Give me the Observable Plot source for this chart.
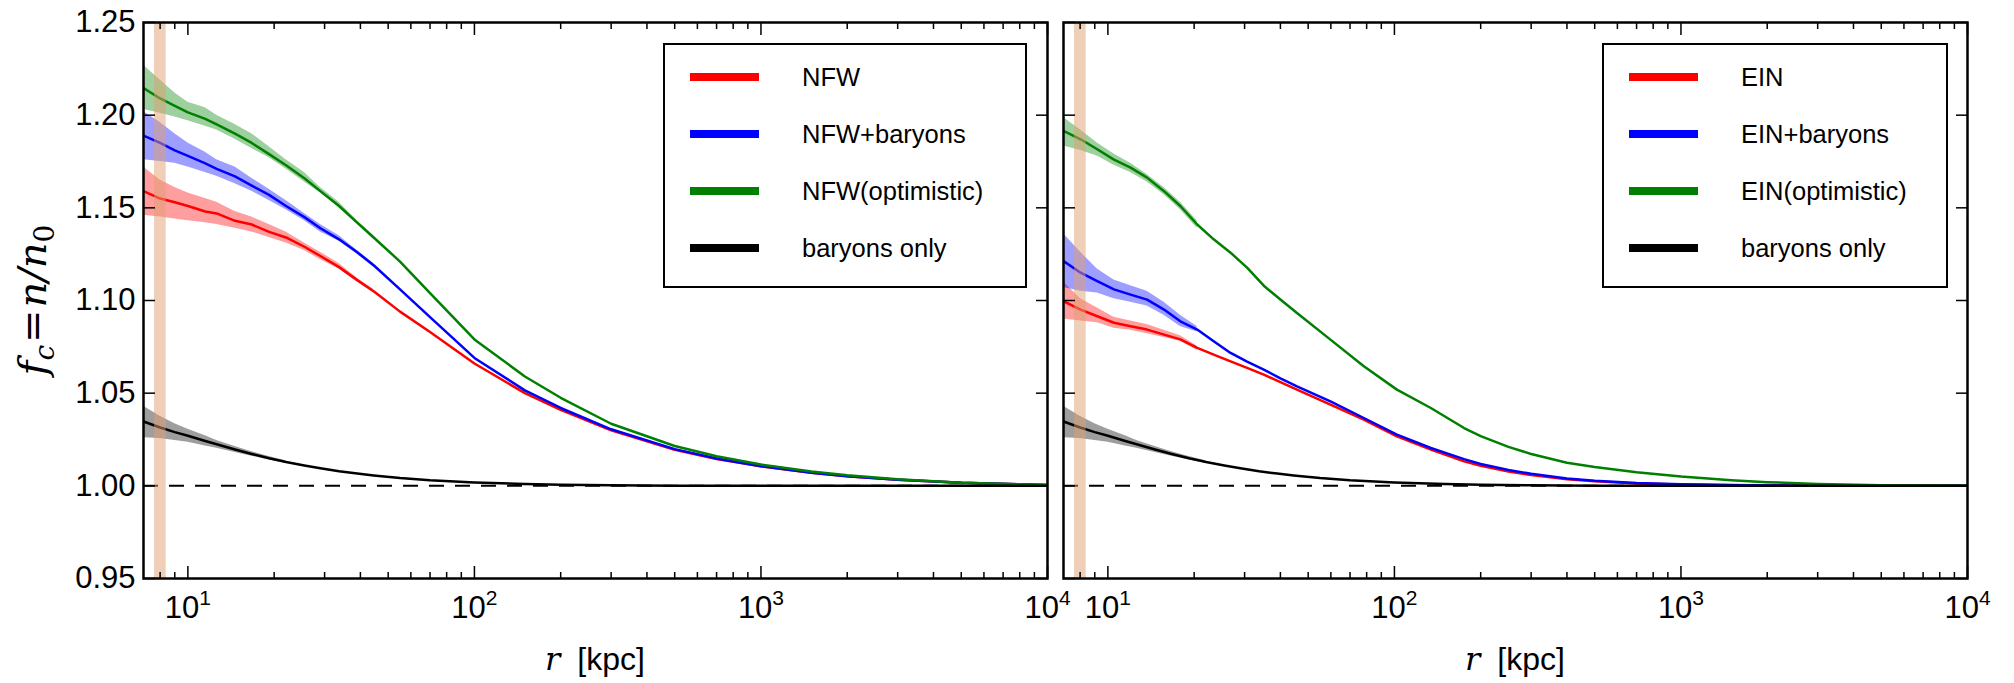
<!DOCTYPE html>
<html><head><meta charset="utf-8">
<script src="https://cdn.jsdelivr.net/npm/d3@7"></script>
<script src="https://cdn.jsdelivr.net/npm/@observablehq/plot@0.6"></script>
<style>
body{margin:0;background:#fff;}
#wrap{position:relative;width:2014px;height:683px;overflow:hidden;}
#wrap svg{position:absolute;top:0;}
</style>
</head><body><div id="wrap"></div>
<script>
// ---------- data ----------
const rL = [7, 8, 9, 10, 11.5, 12.6, 14.6, 16.7, 19.2, 22, 25.5, 29, 33.7, 39, 44.5, 55, 70, 100, 150, 200, 300, 500, 700, 1000, 1500, 2000, 3000, 5000, 10000];
const nfw    = [1.159, 1.155, 1.153, 1.151, 1.148, 1.147, 1.143, 1.141, 1.137, 1.134, 1.129, 1.124, 1.118, 1.111, 1.105, 1.094, 1.083, 1.066, 1.050, 1.041, 1.030, 1.0195, 1.0145, 1.0105, 1.007, 1.0052, 1.0033, 1.0016, 1.0004];
const nfwBar = [1.189, 1.185, 1.181, 1.178, 1.174, 1.171, 1.167, 1.162, 1.157, 1.151, 1.145, 1.139, 1.133, 1.126, 1.119, 1.106, 1.091, 1.069, 1.0515, 1.042, 1.0305, 1.0198, 1.0147, 1.0106, 1.007, 1.0052, 1.0033, 1.0016, 1.0004];
const nfwOpt = [1.2146, 1.209, 1.205, 1.2015, 1.198, 1.195, 1.190, 1.185, 1.179, 1.173, 1.166, 1.159, 1.151, 1.142, 1.134, 1.121, 1.104, 1.079, 1.059, 1.0475, 1.0335, 1.0215, 1.016, 1.0115, 1.0077, 1.0057, 1.0035, 1.0017, 1.0004];
// uncertainty bands, first 15 radii of rL
const nfwLo    = [1.146, 1.145, 1.144, 1.143, 1.142, 1.141, 1.139, 1.137, 1.134, 1.131, 1.127, 1.122, 1.117, 1.110, 1.104];
const nfwHi    = [1.172, 1.165, 1.161, 1.158, 1.155, 1.153, 1.148, 1.145, 1.141, 1.137, 1.131, 1.126, 1.120, 1.112, 1.106];
const nfwBarLo = [1.176, 1.175, 1.174, 1.172, 1.169, 1.167, 1.163, 1.159, 1.154, 1.149, 1.143, 1.137, 1.132, 1.125, 1.118];
const nfwBarHi = [1.202, 1.196, 1.190, 1.185, 1.180, 1.176, 1.172, 1.166, 1.160, 1.154, 1.147, 1.141, 1.135, 1.127, 1.120];
const nfwOptLo = [1.203, 1.201, 1.199, 1.197, 1.194, 1.192, 1.187, 1.182, 1.177, 1.171, 1.164, 1.158, 1.150, 1.141, 1.133];
const nfwOptHi = [1.227, 1.219, 1.212, 1.207, 1.204, 1.200, 1.195, 1.190, 1.183, 1.176, 1.169, 1.161, 1.153, 1.143, 1.135];

const rB = [7, 8, 9, 10, 11.5, 12.6, 14.6, 16.7, 19.2, 22, 25.5, 29, 33.7, 39, 44.5, 55, 70, 100, 150, 200, 300, 500, 700, 1000, 10000];
const baryons   = [1.0347, 1.0315, 1.029, 1.027, 1.0242, 1.0224, 1.0196, 1.0172, 1.0149, 1.0129, 1.011, 1.0095, 1.0079, 1.0066, 1.0056, 1.0042, 1.003, 1.0018, 1.001, 1.0006, 1.0003, 1.0001, 1.0, 1.0, 1.0];
const baryonsLo = [1.026, 1.0255, 1.0245, 1.0235, 1.0215, 1.0203, 1.018, 1.016, 1.0139, 1.0122];
const baryonsHi = [1.043, 1.0375, 1.0335, 1.0305, 1.027, 1.0245, 1.0212, 1.0184, 1.0158, 1.0136];

const rR = [7, 8.03, 9.18, 10.5, 12.0, 13.7, 15.7, 17.9, 20.5, 23.4, 26.8, 30.6, 35.0, 40.0, 45.7, 59.8, 78.2, 102, 134, 175, 200, 250, 300, 400, 500, 700, 1000, 1500, 2000, 3000, 5000, 10000];
const ein    = [1.0996, 1.0951, 1.0915, 1.088, 1.0861, 1.0843, 1.0816, 1.079, 1.0744, 1.0708, 1.0672, 1.0636, 1.060, 1.056, 1.0519, 1.0438, 1.0357, 1.0267, 1.0195, 1.0132, 1.0108, 1.0077, 1.0058, 1.0036, 1.0025, 1.0013, 1.0007, 1.0003, 1.0002, 1.0001, 1.0, 1.0];
const einBar = [1.1213, 1.115, 1.1105, 1.106, 1.1032, 1.1005, 1.0951, 1.0888, 1.0843, 1.078, 1.0717, 1.067, 1.0627, 1.058, 1.0537, 1.0456, 1.0366, 1.0276, 1.0204, 1.0144, 1.0118, 1.0085, 1.0065, 1.004, 1.0028, 1.0015, 1.0008, 1.0004, 1.0002, 1.0001, 1.0, 1.0];
const einOpt = [1.1915, 1.187, 1.1816, 1.176, 1.1717, 1.1663, 1.159, 1.151, 1.141, 1.133, 1.1258, 1.1177, 1.108, 1.1005, 1.0933, 1.0789, 1.0645, 1.0519, 1.042, 1.0312, 1.0268, 1.021, 1.0172, 1.0125, 1.0102, 1.0073, 1.005, 1.003, 1.002, 1.001, 1.0003, 1.0];
// bands, first 9 radii of rR
const einLo    = [1.090, 1.089, 1.088, 1.085, 1.084, 1.082, 1.080, 1.078, 1.073];
const einHi    = [1.110, 1.101, 1.096, 1.091, 1.089, 1.087, 1.084, 1.081, 1.0755];
const einBarLo = [1.107, 1.105, 1.104, 1.101, 1.099, 1.097, 1.092, 1.086, 1.083];
const einBarHi = [1.136, 1.126, 1.117, 1.111, 1.108, 1.105, 1.099, 1.092, 1.086];
const einOptLo = [1.1834, 1.181, 1.178, 1.173, 1.169, 1.164, 1.157, 1.149, 1.139];
const einOptHi = [1.1987, 1.192, 1.185, 1.179, 1.174, 1.168, 1.161, 1.153, 1.143];

const sunBand = [{lo: 7.65, hi: 8.4}];
const xMajor = [10, 100, 1000, 10000];
const xMinor = [8, 9, 20, 30, 40, 50, 60, 70, 80, 90, 200, 300, 400, 500, 600, 700, 800, 900, 2000, 3000, 4000, 5000, 6000, 7000, 8000, 9000];
const yTicks = [0.95, 1.00, 1.05, 1.10, 1.15, 1.20, 1.25];
const leftNames  = ["NFW", "NFW+baryons", "NFW(optimistic)", "baryons only"];
const rightNames = ["EIN", "EIN+baryons", "EIN(optimistic)", "baryons only"];
const colors = ["#ff0000", "#0000ff", "#008000", "#000000"];

// ---------- helpers ----------
const rows = (r, v) => v.map((y, i) => ({r: r[i], y}));
const bandRows = (r, lo, hi) => lo.map((l, i) => ({r: r[i], lo: l, hi: hi[i]}));

const FONT = "Liberation Sans, Arial, sans-serif";
const H = 683, MT = 22, MB = 105;

function panel({width, ml, mr, series, names, showY, legend}) {
  const marks = [];
  series.forEach((s, i) => {
    if (s.lo) marks.push(Plot.areaY(bandRows(s.r, s.lo, s.hi), {x: "r", y1: "lo", y2: "hi", fill: colors[i], fillOpacity: 0.38, clip: true}));
  });
  marks.push(Plot.ruleY([1], {stroke: "black", strokeWidth: 2, strokeDasharray: "15,11"}));
  [0, 1, 2, 3].forEach(i => {
    const s = series[i];
    marks.push(Plot.line(rows(s.r, s.v), {x: "r", y: "y", stroke: colors[i], strokeWidth: 2.5, clip: true}));
  });
  marks.push(Plot.rectX(sunBand, {x1: "lo", x2: "hi", fill: "#e0a070", fillOpacity: 0.5}));
  marks.push(Plot.frame({stroke: "black", strokeWidth: 2.5}));
  // ticks (inward)
  for (const anchor of ["bottom", "top"]) {
    marks.push(Plot.axisX(xMajor, {anchor, tickSize: -12, strokeWidth: 1.5, tickFormat: () => ""}));
    marks.push(Plot.axisX(xMinor, {anchor, tickSize: -6, strokeWidth: 1.5, tickFormat: () => ""}));
  }
  marks.push(Plot.axisX(xMajor, {anchor: "bottom", tickSize: 0, tickPadding: 17, tickFormat: d => "e" + Math.round(Math.log10(d)), fontSize: 31, fontFamily: FONT}));
  for (const anchor of ["left", "right"]) {
    marks.push(Plot.axisY(yTicks, {anchor, tickSize: -12, strokeWidth: 1.5, tickFormat: () => ""}));
  }
  if (showY) marks.push(Plot.axisY(yTicks, {anchor: "left", tickSize: 0, tickPadding: 8, tickFormat: d3.format(".2f"), fontSize: 31, fontFamily: FONT}));

  const svgNode = Plot.plot({
    width, height: H, marginLeft: ml, marginRight: mr, marginTop: MT, marginBottom: MB,
    style: {background: "transparent", overflow: "visible", fontFamily: FONT},
    x: {type: "log", domain: [7, 10000]},
    y: {domain: [0.95, 1.25]},
    marks
  });
  const svg = d3.select(svgNode);
  // clean empty tick texts, and set superscript exponents on x tick labels
  svg.selectAll("text").each(function() {
    const t = d3.select(this);
    const s = t.text();
    if (s === "") { t.remove(); return; }
    const m = /^e(\d)$/.exec(s);
    if (m) {
      t.text("10");
      t.append("tspan").attr("dy", "-0.62em").attr("font-size", "21px").text(m[1]);
    }
  });
  const cx = ml + (width - ml - mr) / 2;
  // x axis label
  const xl = svg.append("text").attr("x", cx).attr("y", 670).attr("text-anchor", "middle")
    .attr("font-size", 32).attr("fill", "black");
  xl.append("tspan").attr("font-family", "DejaVu Serif").attr("font-style", "italic").text("r");
  xl.append("tspan").attr("font-family", FONT).attr("dx", 8).text(" [kpc]");
  // y axis label
  if (showY) {
    const yl = svg.append("text").attr("transform", "translate(46,300) rotate(-90)")
      .attr("text-anchor", "middle").attr("font-family", "DejaVu Serif").attr("font-size", 40).attr("fill", "black");
    yl.append("tspan").attr("font-style", "italic").text("f");
    yl.append("tspan").attr("font-style", "italic").attr("font-size", 28).attr("dy", 8).text("c");
    yl.append("tspan").attr("dy", -8).attr("dx", 2).text("=");
    yl.append("tspan").attr("font-style", "italic").attr("dx", 2).text("n/n");
    yl.append("tspan").attr("font-size", 28).attr("dy", 8).text("0");
  }
  // legend
  const L = legend;
  const g = svg.append("g");
  g.append("rect").attr("x", L.x).attr("y", 44).attr("width", L.w).attr("height", 243)
    .attr("fill", "white").attr("stroke", "black").attr("stroke-width", 2);
  names.forEach((n, i) => {
    const y = 77 + i * 57;
    g.append("line").attr("x1", L.x + 26).attr("x2", L.x + 95).attr("y1", y).attr("y2", y)
      .attr("stroke", colors[i]).attr("stroke-width", 8);
    g.append("text").attr("x", L.x + 138).attr("y", y).attr("dy", "0.36em").attr("text-anchor", "start")
      .attr("font-family", FONT).attr("font-size", 25.5).attr("fill", "black").text(n);
  });
  return svgNode;
}

const wrap = document.getElementById("wrap");
const left = panel({
  width: 1055, ml: 143, mr: 8, showY: true, names: leftNames, legend: {x: 664, w: 362},
  series: [
    {r: rL, v: nfw, lo: nfwLo, hi: nfwHi},
    {r: rL, v: nfwBar, lo: nfwBarLo, hi: nfwBarHi},
    {r: rL, v: nfwOpt, lo: nfwOptLo, hi: nfwOptHi},
    {r: rB, v: baryons, lo: baryonsLo, hi: baryonsHi}
  ]
});
left.style.left = "0px";
wrap.appendChild(left);
const right = panel({
  width: 959, ml: 8, mr: 47, showY: false, names: rightNames, legend: {x: 548, w: 344},
  series: [
    {r: rR, v: ein, lo: einLo, hi: einHi},
    {r: rR, v: einBar, lo: einBarLo, hi: einBarHi},
    {r: rR, v: einOpt, lo: einOptLo, hi: einOptHi},
    {r: rB, v: baryons, lo: baryonsLo, hi: baryonsHi}
  ]
});
right.style.left = "1055px";
wrap.appendChild(right);
</script></body></html>
